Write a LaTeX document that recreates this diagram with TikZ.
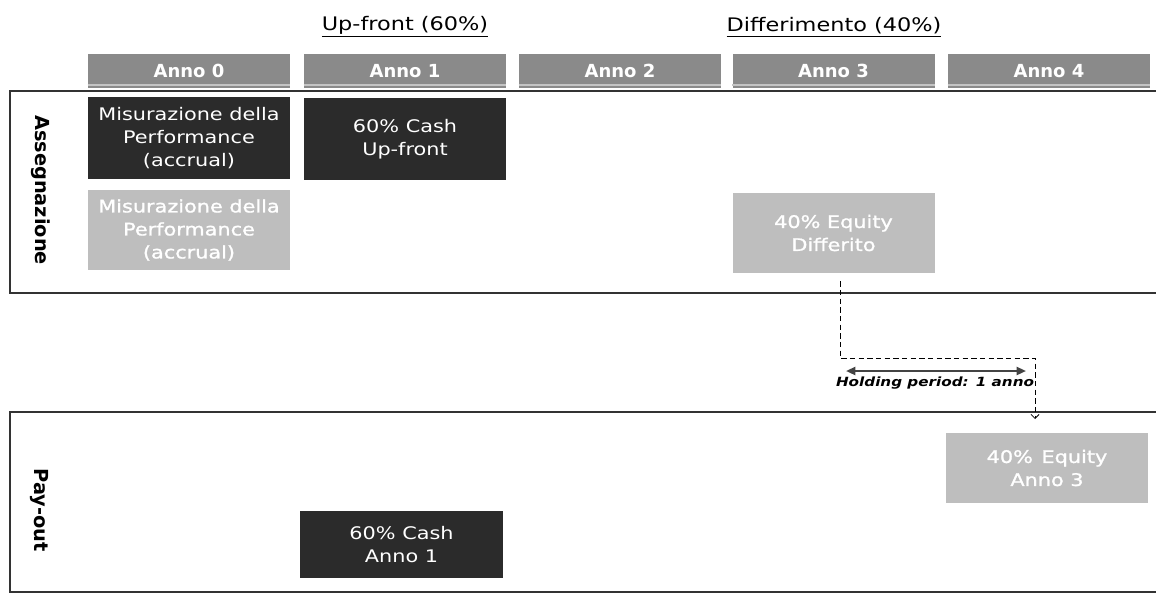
\documentclass[tikz,border=0pt]{standalone}
\usepackage{fontspec}
\setmainfont{DejaVu Sans}
\newfontfamily\boxfont[FakeStretch=1.2]{DejaVu Sans}
\newfontfamily\boxfontheavy[FakeStretch=1.2,FakeBold=1.2]{DejaVu Sans}
\usetikzlibrary{arrows.meta}
\definecolor{hdrgray}{HTML}{8A8A8A}
\definecolor{hdrline}{HTML}{C4C4C4}
\definecolor{darkfill}{HTML}{2B2B2B}
\definecolor{lightfill}{HTML}{BEBEBE}
\definecolor{framecol}{HTML}{333333}
\definecolor{arrcol}{HTML}{444444}
\begin{document}
\begin{tikzpicture}[x=0.75pt,y=-0.75pt,
  hdr/.style={fill=hdrgray, minimum width=151.5pt, minimum height=26pt, inner sep=0pt,
    text=white, font=\fontsize{13.5}{16}\selectfont\bfseries},
  darkbox/.style={fill=darkfill, text=white, inner sep=0pt, minimum width=151.5pt,
    minimum height=61.5pt, align=center, font=\fontsize{13}{17.25}\boxfont},
  lightbox/.style={darkbox, fill=lightfill, font=\fontsize{13}{17.25}\boxfontheavy},
  frameline/.style={draw=framecol, line width=0.9pt},
  sidelabel/.style={rotate=-90, font=\fontsize{14.5}{17}\selectfont\bfseries},
  toplabel/.style={font=\fontsize{14}{17}\boxfont},
  flow/.style={draw=black, dash pattern=on 4pt off 2.5pt, line width=0.6pt, -{Straight Barb[length=3pt,width=6pt]}},
  holdarrow/.style={draw=arrcol, line width=1.6pt, {Triangle[length=7pt,width=6pt]}-{Triangle[length=7pt,width=6pt]}},
  holdlabel/.style={font=\fontsize{9.5}{11}\boxfont\bfseries\itshape}
]
\useasboundingbox (0,0) rectangle (1156,594);

% top labels
\node[toplabel] (up) at (405,27) {\underline{Up-front (60\%)}};
\node[toplabel] (diff) at (834,27) {\underline{Differimento (40\%)}};

% header boxes
\foreach \n/\x in {0/189,1/405,2/620,3/833.5,4/1049}{
  \node[hdr] (h\n) at (\x,71) {Anno \n};
  \draw[hdrline, line width=1.5pt] ([yshift=3pt]h\n.south west) -- ([yshift=3pt]h\n.south east);
}

% frames
\draw[frameline] (1156,91) -- (10,91) -- (10,293) -- (1156,293);
\draw[frameline] (1156,412) -- (10,412) -- (10,592) -- (1156,592);
\node[sidelabel] (ass) at (41,190) {Assegnazione};
\node[sidelabel] (pay) at (39,510) {Pay-out};

% assegnazione boxes
\node[darkbox] (m0) at (189,138) {Misurazione della\\Performance\\(accrual)};
\node[darkbox] (c1) at (405,139) {60\% Cash\\Up-front};
\node[lightbox, minimum height=60pt] (m1) at (189,230) {Misurazione della\\Performance\\(accrual)};
\node[lightbox, minimum height=60pt] (eqd) at (833.5,233) {40\% Equity\\Differito};

% pay-out boxes
\node[lightbox, minimum height=52.5pt] (eq3) at (1047,468) {40\%\enspace Equity\\Anno 3};
\node[darkbox, minimum height=50.25pt, minimum width=152.25pt] (c1p) at (401.5,544.5) {60\% Cash\\Anno 1};

% holding period connector
\coordinate (d1) at (840,358);
\coordinate (d2) at (1035,358);
\coordinate (d3) at (1035,419);
\draw[flow] ([shift={(6.5,8)}]eqd.south) -- (d1) -- (d2) -- (d3);
\coordinate (ha) at (846,371);
\coordinate (hb) at (1026,371);
\draw[holdarrow] (ha) -- (hb);
\node[holdlabel] (hl) at (935,383) {Holding period: 1 anno};
\end{tikzpicture}
\end{document}
